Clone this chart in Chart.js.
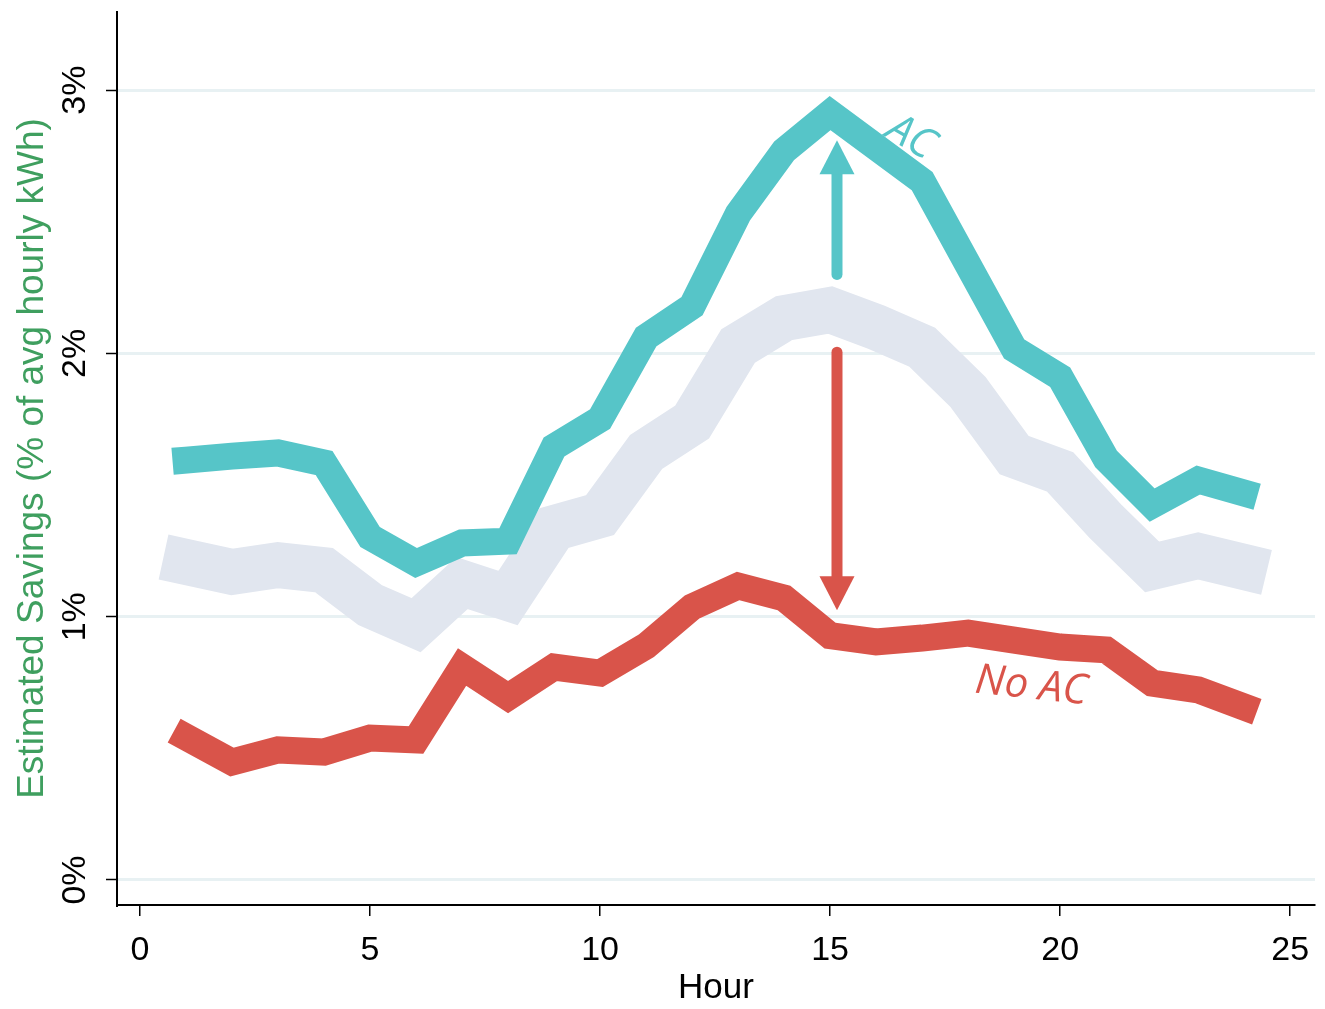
<!DOCTYPE html>
<html>
<head>
<meta charset="utf-8">
<script src="https://cdn.jsdelivr.net/npm/chart.js@4.4.1/dist/chart.umd.min.js"></script>
<style>
  html, body { margin: 0; padding: 0; background: #fff; }
  #wrap { width: 1325px; height: 1009px; }
</style>
</head>
<body>
<div id="wrap"><canvas id="savingsChart" width="1325" height="1009"></canvas></div>
<script>
// --- DATA ---
const hours = [1, 2, 3, 4, 5, 6, 7, 8, 9, 10, 11, 12, 13, 14, 15, 16, 17, 18, 19, 20, 21, 22, 23, 24];
const acSavings = [1.595, 1.610, 1.622, 1.584, 1.303, 1.204, 1.280, 1.287, 1.645, 1.751, 2.062, 2.180,
                   2.530, 2.770, 2.913, 2.784, 2.655, 2.336, 2.017, 1.910, 1.599, 1.424, 1.519, 1.470];
const allSavings = [1.208, 1.170, 1.196, 1.177, 1.044, 0.968, 1.128, 1.071, 1.337, 1.386, 1.626, 1.739,
                    2.028, 2.134, 2.165, 2.100, 2.024, 1.853, 1.614, 1.550, 1.360, 1.189, 1.231, 1.189];
const noAcSavings = [0.543, 0.448, 0.494, 0.486, 0.539, 0.532, 0.809, 0.695, 0.809, 0.786, 0.889, 1.037,
                     1.117, 1.071, 0.928, 0.904, 0.919, 0.938, 0.911, 0.885, 0.874, 0.748, 0.722, 0.657];
const xTicks = [0, 5, 10, 15, 20, 25];
const yTicks = [0, 1, 2, 3];

// panah (jam, dari %, ke %)
const acArrow = { x: 15.15, from: 2.30, to: 2.81 };
const noAcArrow = { x: 15.15, from: 2.005, to: 1.025 };

const TEAL = '#56c5c8';
const GRAY = '#e1e6ef';
const RED = '#d9544a';
const GREEN = '#3f9f5f';
const GRID = '#e8f1f3';

function toPoints(vals) {
    return hours.map((h, i) => ({ x: h, y: vals[i] }));
}

// --- PLUGIN: label sumbu Y, panah, dan teks ---
const extrasPlugin = {
    id: 'extras',
    afterDraw(chart) {
        const ctx = chart.ctx;
        const xs = chart.scales.x;
        const ys = chart.scales.y;

        // label tick Y (diputar)
        ctx.save();
        ctx.fillStyle = '#000';
        ctx.font = '34px "Liberation Sans", Arial, sans-serif';
        ctx.textAlign = 'center';
        ctx.textBaseline = 'middle';
        yTicks.forEach(v => {
            const py = ys.getPixelForValue(v);
            ctx.save();
            ctx.translate(76, py);
            ctx.rotate(-Math.PI / 2);
            ctx.fillText(v + '%', 0, 0);
            ctx.restore();
        });
        ctx.restore();

        drawArrow(ctx, xs.getPixelForValue(acArrow.x), ys.getPixelForValue(acArrow.from), ys.getPixelForValue(acArrow.to), TEAL);
        drawArrow(ctx, xs.getPixelForValue(noAcArrow.x), ys.getPixelForValue(noAcArrow.from), ys.getPixelForValue(noAcArrow.to), RED);

        // teks seri
        drawLabel(ctx, 'AC', xs.getPixelForValue(16.75), ys.getPixelForValue(2.82), 30, TEAL);
        drawLabel(ctx, 'No AC', xs.getPixelForValue(19.37), ys.getPixelForValue(0.735), 6, RED);
    }
};

function drawArrow(ctx, x, y0, y1, color) {
    const dir = y1 < y0 ? -1 : 1;
    const headLen = 34, headW = 35;
    const base = y1 - dir * headLen;
    ctx.save();
    ctx.strokeStyle = color;
    ctx.fillStyle = color;
    ctx.lineWidth = 11;
    ctx.lineCap = 'round';
    ctx.beginPath();
    ctx.moveTo(x, y0);
    ctx.lineTo(x, base);
    ctx.stroke();
    ctx.beginPath();
    ctx.moveTo(x - headW / 2, base);
    ctx.lineTo(x + headW / 2, base);
    ctx.lineTo(x, y1);
    ctx.closePath();
    ctx.fill();
    ctx.restore();
}

function drawLabel(ctx, text, x, y, deg, color) {
    ctx.save();
    ctx.translate(x, y);
    ctx.rotate(deg * Math.PI / 180);
    ctx.fillStyle = color;
    ctx.font = 'italic 42px "Open Sans", sans-serif';
    ctx.textAlign = 'center';
    ctx.textBaseline = 'middle';
    ctx.fillText(text, 0, 0);
    ctx.restore();
}

const lineStyle = {
    pointRadius: 0,
    tension: 0,
    borderCapStyle: 'square',
    borderJoinStyle: 'miter',
    fill: false
};

const ctx = document.getElementById('savingsChart').getContext('2d');
new Chart(ctx, {
    type: 'line',
    data: {
        datasets: [
            { label: 'No AC', data: toPoints(noAcSavings), borderColor: RED, borderWidth: 27, ...lineStyle },
            { label: 'AC', data: toPoints(acSavings), borderColor: TEAL, borderWidth: 27, ...lineStyle },
            { label: 'All', data: toPoints(allSavings), borderColor: GRAY, borderWidth: 46, ...lineStyle }
        ]
    },
    options: {
        responsive: false,
        animation: false,
        devicePixelRatio: 1,
        layout: { padding: { left: 0, right: 10, top: 12, bottom: 0 } },
        plugins: {
            legend: { display: false },
            tooltip: { enabled: false }
        },
        scales: {
            x: {
                type: 'linear',
                min: -0.5,
                max: 25.54,
                afterBuildTicks: s => { s.ticks = xTicks.map(v => ({ value: v })); },
                afterFit: s => { s.height = 104; },
                grid: { drawOnChartArea: false, color: '#000', tickColor: '#000', tickLength: 11, lineWidth: 1.5 },
                border: { color: '#000', width: 2 },
                ticks: {
                    color: '#000',
                    padding: 14,
                    maxRotation: 0,
                    font: { family: '"Liberation Sans", Arial, sans-serif', size: 34 }
                },
                title: {
                    display: true,
                    text: 'Hour',
                    color: '#000',
                    padding: { top: 4, bottom: 0 },
                    font: { family: '"Liberation Sans", Arial, sans-serif', size: 35 }
                }
            },
            y: {
                type: 'linear',
                min: -0.095,
                max: 3.297,
                afterBuildTicks: s => { s.ticks = yTicks.map(v => ({ value: v })); },
                afterFit: s => { s.width = 117; },
                grid: { color: GRID, lineWidth: 3, tickColor: '#000', tickLength: 11, tickWidth: 1.5 },
                border: { color: '#000', width: 2 },
                ticks: { display: false },
                title: {
                    display: true,
                    text: 'Estimated Savings (% of avg hourly kWh)',
                    color: GREEN,
                    padding: { top: 11, bottom: 0 },
                    font: { family: '"Liberation Sans", Arial, sans-serif', size: 37 }
                }
            }
        }
    },
    plugins: [extrasPlugin]
});
</script>
</body>
</html>
